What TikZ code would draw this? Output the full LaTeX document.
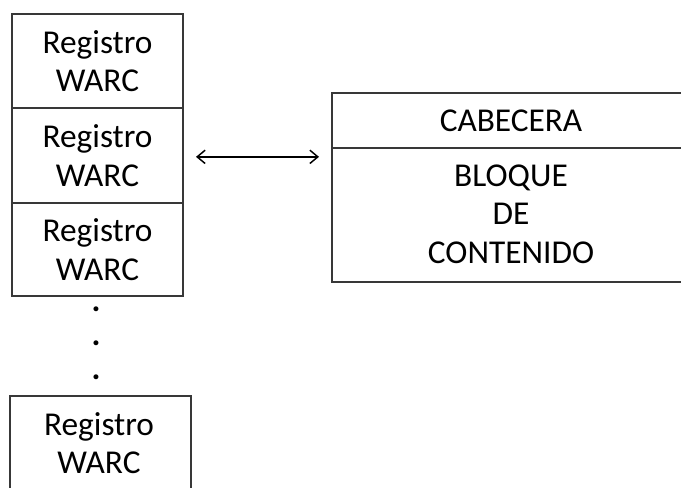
\documentclass[tikz,border=0pt]{standalone}
\usepackage{fontspec}
\setmainfont{Carlito}
\usetikzlibrary{arrows.meta}
\begin{document}
\begin{tikzpicture}[x=0.75pt,y=-0.75pt,
  lbl/.style={font=\fontsize{25}{29}\selectfont, align=center, inner sep=0pt, text=black},
  rec/.style={draw=black!78, line width=1.5pt, rectangle, inner sep=0pt},
  dotn/.style={font=\fontsize{25}{29}\selectfont\bfseries, inner sep=0pt, text=black},
  link/.style={{Straight Barb[length=6pt,width=10pt,line width=1.1pt]}-{Straight Barb[length=6pt,width=10pt,line width=1.1pt]}, line width=1.1pt, black}]
\clip (0,0) rectangle (681,487);
\fill[white] (0,0) rectangle (681,487);
% left column
\node[rec, minimum width=171*0.75pt, minimum height=94*0.75pt] (r1) at (97.5,61) {};
\node[rec, minimum width=171*0.75pt, minimum height=95*0.75pt] (r2) at (97.5,155.5) {};
\node[rec, minimum width=171*0.75pt, minimum height=93*0.75pt] (r3) at (97.5,249.5) {};
\node[lbl] (t1) at (r1.center) {Registro\\WARC};
\node[lbl] (t2) at (r2.center) {Registro\\WARC};
\node[lbl] (t3) at (r3.center) {Registro\\WARC};
\node[dotn] (d1) at (96,309) {.};
\node[dotn] (d2) at (96,343) {.};
\node[dotn] (d3) at (96,377) {.};
% bottom box (bottom edge outside picture)
\node[rec, minimum width=181*0.75pt, minimum height=110*0.75pt] (r4) at (100.5,451) {};
\node[lbl] (t4) at (99,443) {Registro\\WARC};
% right box
\node[rec, minimum width=358*0.75pt, minimum height=55*0.75pt] (hdr) at (511,120.5) {};
\node[rec, minimum width=358*0.75pt, minimum height=134*0.75pt] (blk) at (511,215) {};
\node[lbl] (th) at (511,121) {CABECERA};
\node[lbl] (tb) at (511,214) {BLOQUE\\DE\\CONTENIDO};
% connector
\coordinate (aL) at ([xshift=9pt]r2.east);
\coordinate (aR) at ([xshift=-9pt]aL -| hdr.west);
\draw[link] ([yshift=-1pt]aL) -- ([yshift=-1pt]aR);
\end{tikzpicture}
\end{document}
